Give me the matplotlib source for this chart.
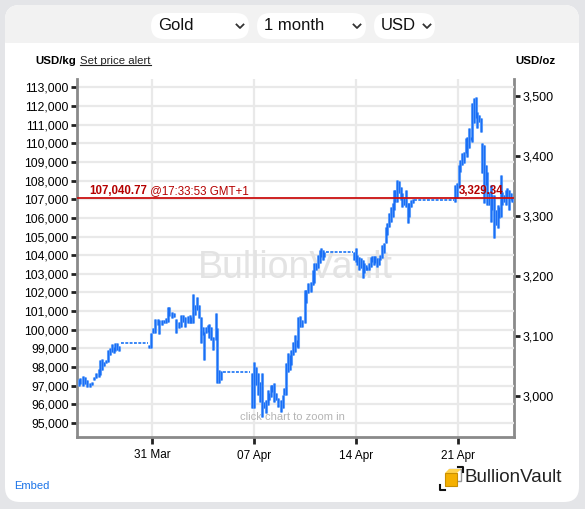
# Goldpreis 1 Monat (USD/kg links, USD/oz rechts) im Stil des BullionVault-Charts
import numpy as np
import matplotlib.pyplot as plt
from matplotlib.patches import FancyBboxPatch, Rectangle, Polygon
from matplotlib.lines import Line2D
from matplotlib.transforms import IdentityTransform
from matplotlib.ticker import FuncFormatter

plt.rcParams['font.family'] = ['Liberation Sans', 'DejaVu Sans']

# Bildgroesse in Pixel
B, H = 585, 509
KG_JE_OZ = 32.1507  # Feinunzen pro kg

# Zeit in Tagen relativ zum 31. Maerz 00:00
tage = [-5.04, -4.93, -4.75, -4.59, -4.47, -4.29, -4.13, -3.97, -3.84, -3.67, -3.56, -3.45, -3.29, -3.15,
        -2.99, -2.88, -2.76, -2.64, -2.53, -2.42, -2.26,
        -0.24, -0.08, 0.05, 0.21, 0.38, 0.51, 0.67, 0.83, 0.97, 1.08, 1.20, 1.36, 1.52, 1.66, 1.82, 1.98,
        2.11, 2.27, 2.44, 2.62,
        2.71, 2.82, 2.94, 3.10, 3.21, 3.35, 3.47, 3.58, 3.69, 3.81, 3.92, 4.04, 4.20, 4.36, 4.47, 4.58, 4.72,
        6.83, 7.01, 7.17, 7.28, 7.42, 7.56, 7.67, 7.81, 7.93, 8.04, 8.15, 8.27, 8.38, 8.50, 8.66, 8.84, 8.96,
        9.07, 9.18, 9.34, 9.46, 9.57, 9.69, 9.80, 9.92, 10.03,
        10.14, 10.33, 10.49, 10.60, 10.71, 10.88, 11.02, 11.13, 11.24, 11.40, 11.52, 11.63, 11.74, 11.81,
        13.87, 13.99, 14.10, 14.21, 14.33, 14.45, 14.56, 14.67, 14.79, 14.88, 15.00, 15.11, 15.22, 15.34,
        15.45, 15.57, 15.68, 15.82, 15.93, 16.05, 16.16, 16.27, 16.39, 16.51, 16.60, 16.71, 16.82, 16.94,
        17.06, 17.17, 17.28, 17.42, 17.54, 17.65, 17.77, 17.93,
        20.78, 20.94, 21.06, 21.17, 21.28, 21.42, 21.54, 21.65, 21.76, 21.88, 22.00, 22.11, 22.22, 22.34,
        22.45, 22.57, 22.68, 22.79, 22.91, 23.03, 23.14, 23.26, 23.37, 23.48, 23.60, 23.72, 23.83, 23.94,
        24.06, 24.17, 24.28, 24.40, 24.51, 24.63, 24.74]

# Hoch- und Tiefstkurse je Balken in USD/kg
hoch = [97350, 97400, 97520, 97480, 97300, 97160, 97210, 97480, 97660, 97880, 98380, 98420, 98290, 98380,
        98910, 99000, 99240, 99090, 99270, 99300, 99130,
        99180, 99810, 100080, 100560, 100560, 100520, 100520, 100520, 100610, 101240, 101240, 100970,
        100880, 100560, 100430, 100790, 100790, 100700, 100740, 100790,
        100700, 101900, 101330, 101770, 101330, 100700, 100160, 99900, 100160, 100250, 100290, 100160,
        99630, 100880, 100080, 97840, 97790,
        97660, 98290, 98020, 97660, 97210, 97660, 96140, 96230, 96770, 96590, 97040, 97040, 97130, 96590,
        96320, 96230, 96500, 96860, 98200, 98740, 98650, 98910, 99360, 99720, 99450, 100700,
        100740, 100520, 102130, 102130, 102490, 102580, 103200, 103560, 103560, 104010, 104280, 104370,
        104280, 104190,
        104190, 104370, 104010, 103920, 103830, 103740, 103560, 103470, 103380, 103560, 103920, 103950,
        103950, 103950, 103830, 103830, 104010, 104540, 104640, 105530, 105710, 106240, 106600, 106780,
        107490, 107490, 108030, 107990, 107670, 107310, 107050, 107490, 106780, 106780, 106960, 107000,
        107760, 107850, 108830, 109100, 109460, 109550, 110270, 110350, 110800, 110350, 112140, 112410,
        112500, 111690, 111510, 111340, 110000, 109910, 108830, 108480, 107400, 107760, 107230, 107230,
        106420, 106690, 106600, 108300, 107400, 107230, 107490, 107580, 107490, 107310, 107130]

tief = [97000, 97100, 96980, 97090, 96950, 96910, 97040, 97300, 97400, 97480, 97570, 97840, 98060, 98200,
        98290, 98650, 98820, 98770, 98880, 98910, 98880,
        99000, 99000, 99810, 99810, 100250, 99770, 100250, 100350, 100380, 100430, 100740, 100610,
        100700, 99810, 100080, 100160, 100430, 100160, 100350, 100350,
        100350, 100350, 100790, 101060, 100610, 99270, 99720, 98380, 99810, 99900, 99540, 99450,
        98910, 99450, 97130, 97130, 97300,
        95790, 95790, 97040, 96500, 96140, 95340, 95790, 95520, 95970, 96230, 96410, 96680, 96140, 96230,
        95870, 95610, 95790, 96500, 96500, 97750, 97840, 98110, 98650, 98820, 99090, 99000,
        100160, 100160, 100350, 101420, 101950, 102040, 102400, 102490, 103200, 103300, 103560, 103920,
        103740, 103920,
        103740, 103650, 103470, 103200, 103300, 102760, 103030, 103200, 103200, 103200, 103380, 103650,
        103470, 103560, 103380, 103470, 103740, 103830, 104100, 104640, 105080, 105530, 105790, 106060,
        106420, 106870, 106870, 107310, 106960, 106600, 106690, 106600, 105710, 106060, 106600, 106780,
        106870, 107050, 107580, 108480, 108830, 108930, 109460, 109280, 109730, 110170, 110080, 111070,
        111340, 110800, 111160, 110620, 108390, 106780, 107760, 106690, 106690, 105790, 106420, 104900,
        105620, 105440, 105980, 106060, 106690, 106870, 106690, 107050, 106420, 106960, 106870]

# Wochenenden / Feiertage: Kurs bleibt stehen
pause_start = [-2.12, 4.84, 11.93, 18.00]
pause_ende = [-0.28, 6.75, 13.82, 20.74]
pause_kurs = [99270, 97720, 104150, 106960]

# aktueller Kurs
kurs_kg = 107040.77
kurs_oz = 3329.34

# Achsenbeschriftungen
x_ticks = [0, 7, 14, 21]
x_labels = ['31 Mar', '07 Apr', '14 Apr', '21 Apr']
y_ticks_kg = np.arange(95000, 113001, 1000)
y_ticks_oz = [3000, 3100, 3200, 3300, 3400, 3500]

fig = plt.figure(figsize=(B / 100, H / 100), dpi=100)
fig.patch.set_facecolor('#e4e5e8')
pix = IdentityTransform()


def kasten(x, y, w, h, r, farbe, z=-5):
    # x, y: linke obere Ecke in Pixel
    p = FancyBboxPatch((x, H - y - h), w, h, boxstyle=f'round,pad=0,rounding_size={r}',
                       transform=pix, fc=farbe, ec='none', zorder=z)
    fig.add_artist(p)


# Karte mit grauem Kopfbereich
kasten(5, 5, 574, 497, 15, 'white', z=-10)
kasten(5, 5, 574, 50, 15, '#f2f2f2', z=-9)
fig.add_artist(Rectangle((5, H - 60), 574, 17, transform=pix, fc='white', ec='none', zorder=-8))

# Auswahlfelder
for x0, breite, text, pfeil in [(151, 98, 'Gold', 240), (257, 109, '1 month', 357), (374, 61, 'USD', 427)]:
    kasten(x0, 13, breite, 26, 13, 'white', z=-7)
    fig.text((x0 + 7) / B, 1 - 26 / H, text, fontsize=12, color='#111', va='center')
    fig.add_artist(Line2D([pfeil - 3.5, pfeil, pfeil + 3.5], [H - 24.5, H - 28, H - 24.5],
                          transform=pix, color='#333', lw=1.3))

# Kopfzeile ueber dem Chart
fig.text(35 / B, 1 - 61 / H, 'USD/kg', fontsize=8.2, fontweight='bold', va='center')
alarm = fig.text(80 / B, 1 - 61 / H, 'Set price alert', fontsize=8.2, color='#222', va='center')
fig.text(515 / B, 1 - 61 / H, 'USD/oz', fontsize=8.2, fontweight='bold', va='center')

# Achsen
ax = fig.add_axes([77 / B, 1 - 437 / H, (514 - 77) / B, (437 - 79) / H])
ax.set_facecolor('white')
ax.set_xlim(-5.15, 24.85)
ax.set_ylim(94250, 113445)
ax.set_xticks(x_ticks)
ax.set_xticklabels(x_labels)
ax.set_yticks(y_ticks_kg)
ax.yaxis.set_major_formatter(FuncFormatter(lambda v, p: f'{v:,.0f}'))
ax.set_axisbelow(True)
ax.grid(True, color='#e9e9e9', lw=1.6)
ax.tick_params(axis='y', length=4, width=2, color='#222', labelsize=8.8, pad=2)
ax.tick_params(axis='x', length=5, width=2, color='#222', labelsize=8.5, pad=4)
ax.spines['top'].set_visible(False)
ax.spines['right'].set_visible(False)
for seite in ['left', 'bottom']:
    ax.spines[seite].set_color('#8a8a8a')
    ax.spines[seite].set_linewidth(2)

# rechte Achse in USD/oz
rechts = ax.secondary_yaxis('right', functions=(lambda v: v / KG_JE_OZ, lambda v: v * KG_JE_OZ))
rechts.set_yticks(y_ticks_oz)
rechts.yaxis.set_major_formatter(FuncFormatter(lambda v, p: f'{v:,.0f}'))
rechts.tick_params(length=4, width=2, color='#222', labelsize=9, pad=2)
rechts.spines['right'].set_color('#8a8a8a')
rechts.spines['right'].set_linewidth(2)

# Wasserzeichen und Hinweis
ax.text(0.499, 0.472, 'BullionVault', transform=ax.transAxes, fontsize=27, color='#e3e3e3',
        ha='center', va='center', zorder=1)
ax.text(0.492, 0.056, 'click chart to zoom in', transform=ax.transAxes, fontsize=8, color='#b5b5b5',
        ha='center', va='center', zorder=1)

# Kursbalken: hellblauer Rand, dunklerer Kern
ax.vlines(tage, tief, hoch, color='#6aa6fa', lw=2.2, zorder=3)
ax.vlines(tage, tief, hoch, color='#1a6ef5', lw=1.0, zorder=3)
ax.hlines(pause_kurs, pause_start, pause_ende, color='#2b7ef6', lw=1.3,
          linestyles=[(0, (1.6, 0.8))], zorder=3)

# aktueller Kurs als rote Linie
rot = '#b50000'
ax.axhline(kurs_kg, color='#cc1111', lw=1.3, zorder=4)
t1 = ax.annotate(f'{kurs_kg:,.2f}', xy=(0.028, kurs_kg), xycoords=('axes fraction', 'data'),
                 xytext=(0, 1), textcoords='offset points', color=rot, fontsize=8.3,
                 fontweight='bold', va='bottom', zorder=5)
ax.annotate(' @17:33:53 GMT+1', xy=(1, 0), xycoords=t1, color=rot, fontsize=8.3, va='bottom', zorder=5)
ax.annotate(f'{kurs_oz:,.2f}', xy=(0.975, kurs_kg), xycoords=('axes fraction', 'data'),
            xytext=(0, 1), textcoords='offset points', color=rot, fontsize=8.3,
            fontweight='bold', ha='right', va='bottom', zorder=5)

# Fusszeile: Embed-Link und Logo
fig.text(14 / B, 1 - 486 / H, 'Embed', fontsize=8, color='#1a73e8', va='center')
fig.text(465 / B, 1 - 478 / H, 'BullionVault', fontsize=13.5, color='#222', va='center')
# Wuerfel-Symbol
fig.add_artist(Rectangle((449, H - 481), 12, 12, transform=pix, fc='none', ec='#999', lw=1))
fig.add_artist(Polygon([(445, H - 473), (449, H - 469), (461, H - 469), (457, H - 473)],
                       transform=pix, fc='#ffd24d', ec='none'))
fig.add_artist(Rectangle((445, H - 486), 12, 13, transform=pix, fc='#f5b000', ec='#c98f00', lw=0.8))
fig.add_artist(Line2D([458, 463, 463], [H - 467, H - 467, H - 472], transform=pix, color='#111', lw=1.5))
fig.add_artist(Line2D([440, 440, 445], [H - 485, H - 490, H - 490], transform=pix, color='#111', lw=1.5))

# Unterstreichung fuer den Link
fig.canvas.draw()
bb = alarm.get_window_extent()
fig.add_artist(Line2D([bb.x0, bb.x1], [bb.y0 + 1, bb.y0 + 1], transform=pix, color='#222', lw=0.8))

fig.savefig('out.png', dpi=100)
